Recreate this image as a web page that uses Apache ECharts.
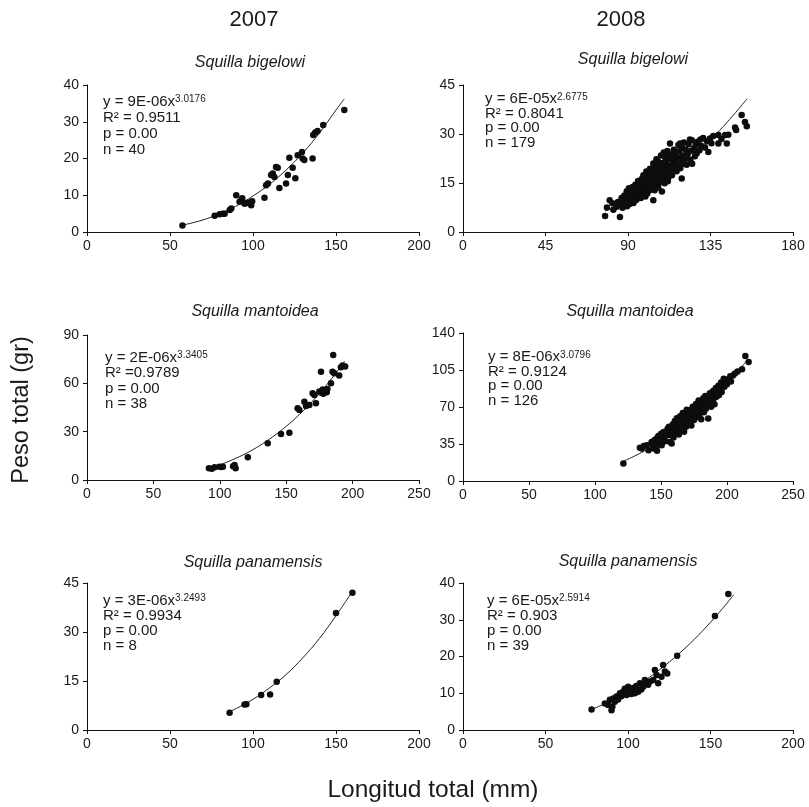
<!DOCTYPE html>
<html>
<head>
<meta charset="utf-8">
<script src="https://cdn.jsdelivr.net/npm/echarts@6/dist/echarts.min.js"></script>
<style>
  html, body { margin: 0; padding: 0; background: #fff; }
  #chart { width: 809px; height: 807px; }
</style>
</head>
<body>
<div id="chart"></div>
<script>
// ---- data ----
const years = ['2007', '2008'];
const species = ['Squilla bigelowi', 'Squilla bigelowi', 'Squilla mantoidea', 'Squilla mantoidea', 'Squilla panamensis', 'Squilla panamensis'];

// axis ranges per panel: [xMax, xStep, yMax, yStep]
const xMax = [200, 180, 250, 250, 200, 200];
const xStep = [50, 45, 50, 50, 50, 50];
const yMax = [40, 45, 90, 140, 45, 40];
const yStep = [10, 15, 30, 35, 15, 10];

// fit statistics shown in each panel
const coef = ['9E-06', '6E-05', '2E-06', '8E-06', '3E-06', '6E-05'];
const expo = ['3.0176', '2.6775', '3.3405', '3.0796', '3.2493', '2.5914'];
const r2 = ['R² = 0.9511', 'R² = 0.8041', 'R² =0.9789', 'R² = 0.9124', 'R² = 0.9934', 'R² = 0.903'];
const nObs = [40, 179, 38, 126, 8, 39];

// scatter points [longitud, peso]
const bigelowi07 = [[57.5,1.8],[76.9,4.4],[79.9,4.8],[81.9,5.0],[82.9,5.0],[86,6.0],[86.9,6.4],[89.9,10.0],[91.9,8.2],[92.9,8.6],
  [94.9,7.7],[97.9,8.0],[99.5,8.4],[98.9,7.3],[96,7.9],[93.5,9.2],[106.9,9.3],[107.9,12.7],[109,13.2],[110.9,15.5],
  [111.9,15.9],[112.9,15.0],[113.9,17.7],[114.9,17.5],[115.9,12.0],[119.9,13.2],[121,15.5],[121.9,20.2],[123.9,17.5],[125.5,14.6],
  [126.9,20.9],[129.5,21.8],[129.9,20.0],[130.9,19.6],[135.9,20.0],[136.3,26.4],[137.5,27.1],[138.9,27.5],[142.3,29.1],[155,33.2]];

const bigelowi08 = [[77.5,4.9],[78.5,7.5],[80,9.7],[81.5,8.8],[82,6.8],[83.8,7.7],[85.6,4.6],[84.5,9.2],
  [86,8.5],[86.5,10.4],[87,7.4],[87.5,9.8],[88,11.2],[88.5,8.2],[89,10.6],[89.3,12.5],[89.5,7.9],[90,9.4],[90,11.8],[90.5,13.4],
  [91,10.2],[91,8.6],[91.5,12.3],[92,9.9],[92,11.4],[92.5,13.8],[93,10.8],[93,8.9],[93.5,12.6],[94,11.3],[94,14.5],[94.5,9.8],
  [95,12.1],[95,10.5],[95.5,13.3],[95.5,15.6],[95,11.7],[94,12.9],[92.7,10.3],[91.7,11.6],
  [96,11.2],[96,14.2],[96.5,12.6],[97,10.4],[97,13.8],[97.5,16.2],[97.5,12.0],[98,14.8],[98.4,17.4],[98,11.5],[98.5,13.2],
  [99,15.4],[99,12.3],[99.5,10.9],[99.5,14.1],[100,16.6],[100,13.0],[100,18.5],[100.5,11.8],[97,15.2],[98.7,16.1],[96.3,13.1],
  [101,14.5],[101,17.2],[101.5,12.7],[102,15.8],[102,19.4],[102.5,14.0],[103,16.9],[103,13.2],[103.5,18.3],[103.8,21.0],[103.8,9.7],
  [104,15.1],[104,17.6],[104.5,20.2],[104.5,12.8],[105,16.3],[105,14.6],[105,19.0],[105.5,22.3],[102.7,16.4],[101.7,18.4],[104.2,13.9],
  [106,15.7],[106,18.9],[106.5,21.5],[106.5,13.6],[107,17.4],[107,20.1],[107.5,15.2],[108,19.3],[108,23.4],[108.5,16.6],
  [108.5,12.4],[109,18.2],[109,21.1],[109.5,24.3],[110,17.0],[110,19.8],[110,14.9],[110.5,22.6],[107.3,18.5],[109.3,16.0],
  [111,18.6],[111,21.7],[111.5,24.8],[112,16.6],[112,20.3],[112.9,27.1],[113,22.5],[113,18.1],[113.5,19.9],[114,23.6],
  [114,17.4],[114.5,21.4],[115,25.2],[115,19.3],[115.5,22.5],[112.5,23.8],[111.7,15.5],[114.3,20.2],
  [116,21.2],[116,24.1],[116.5,18.6],[117,22.9],[117.5,26.6],[117.5,20.4],[118,24.7],[118.4,27.1],[118.5,19.5],[119,22.1],
  [119.3,16.4],[119.5,25.8],[120,23.4],[120,20.8],[120.5,27.4],
  [121,22.4],[121.5,25.2],[122,20.6],[122.5,23.8],[123,26.9],[123.8,28.3],[124,22.1],[124.5,24.9],[124.8,28.1],[125,20.9],
  [126,25.6],[126.5,23.2],[127,26.8],[127.5,24.1],[128,27.6],
  [129,25.0],[129.5,28.3],[130,26.3],[131,28.8],[132,25.9],[133,27.8],[133.8,24.5],[134.7,28.6],[135.5,27.2],[136.5,29.4],
  [139.3,29.7],[139.3,27.1],[141,28.5],[143,29.7],[143.9,27.1],[144.7,29.8],[148.4,32.0],[152,35.8],[153.8,33.7],[154.8,32.4],[149,31.2]];

const mantoidea07 = [[91.8,7.3],[94,7.0],[96.1,7.9],[99.8,8.3],[101,8.0],[102.3,8.3],[111.1,9.3],[111.9,7.3],[110,8.6],[121.1,14.1],
  [136.1,22.8],[146.1,28.6],[152.4,29.4],[158.6,44.5],[159.9,43.5],[163.7,48.6],[164.9,45.9],[167.4,46.6],[169.9,53.8],[171.2,52.8],
  [172.4,47.6],[175,55],[176.2,67.2],[176.5,54.2],[177.5,56.1],[178.5,54.8],[179.5,55.7],[180.5,54.5],[178,53.5],[181,56.5],
  [183.7,60],[184.9,67.2],[186.2,66.2],[185.4,77.6],[189.9,64.9],[191.2,70.0],[192.5,71.1],[194.4,70.4]];

const mantoidea08 = [[121.5,16.6],[134,31.5],[135.4,30.7],[137,33],[139.1,33.8],[140.5,29.2],[142.9,37],[144.2,30.7],[146.7,33.8],[146.7,40.2],
  [143,35.2],[145,38.5],[147,28.5],[147.5,36.4],[148,42.5],[149.2,38.6],[150,44.8],[150.5,33.9],[151,40.1],[152,46.3],
  [153,37.6],[154,42.8],[155,49.5],[156.8,37],[158.1,35.4],[155.5,45.1],
  [156,51.2],[157,43.5],[158,47.8],[159,53.6],[159.5,41.2],[160,49.5],[160.5,56.8],[161,45.3],[161.5,52.1],[162,59.4],
  [162.5,47.2],[163,54.8],[163.5,43.9],[164,50.6],[164.5,61.2],[165,56.3],[165.5,48.1],[166,53.5],[166.5,64.3],[167,58.7],
  [167.5,46.5],[168,55.2],[168.5,61.9],[169,51.4],[169.5,67.5],[170,58.1],[170.5,53.2],[163.8,57.6],[161.2,49.8],[166.3,60.1],
  [171,62.8],[171.5,56.4],[172,66.9],[172.5,59.7],[173,52.4],[173.5,64.1],[174,70.2],[174.5,61.3],[175,57.8],[175.5,67.4],
  [176,63.5],[176.5,72.8],[177,60.2],[177.5,69.1],[178,65.7],[178.5,76.1],[179,62.4],[179.5,71.5],[180,67.9],[180.5,58.5],
  [181,74.3],[181.5,69.6],[182,78.2],[182.5,65.1],[183,72.6],[183.5,80.4],[184,68.3],[184.5,75.7],[185.8,59.1],[185,71.2],
  [176.8,66.2],[179.2,73.7],
  [186,78.9],[186.5,73.4],[187,83.1],[187.5,76.5],[188,70.2],[188.5,80.7],[189,75.1],[189.5,85.2],[190,78.3],[190.5,72.6],
  [191,82.4],[191.5,87.9],[192,79.6],[193,84.7],[193.5,90.2],[194,81.3],[195,88.6],[196,84.1],[197,92.5],[198,89.2],
  [199,95.3],[200,91.6],[197.5,96.8],[195.5,93.1],
  [201,96.2],[202.5,99.2],[204.5,99.9],[203,94.1],[206,101.8],[208,103.5],[211.4,105.6],[213.9,118.3],[216.4,112.6]];

const panamensis07 = [[85.9,5.3],[94.9,7.8],[96,7.9],[104.9,10.7],[110.3,10.9],[114.3,14.8],[150,35.8],[159.9,42]];

const panamensis08 = [[77.9,5.6],[90,5.4],[90.5,6.3],[88,6.8],[86,7.2],[89,8.2],[91,8.6],[92,7.7],[93,9.1],[94,8.3],
  [95.1,10.0],[96,9.2],[97.1,10.4],[98,11.2],[99.1,9.5],[100.1,11.8],[101.1,10.9],[102,9.8],[103.1,11.4],[104.2,10.0],
  [105,12.0],[106.2,10.4],[107.2,12.7],[108,11.0],[109.2,11.8],[110.2,13.6],[111,12.9],[112.2,12.3],[113.3,13.2],[115.3,13.6],
  [116.3,16.3],[117.3,15.0],[118.3,12.7],[120.3,14.5],[121.3,17.7],[122.4,15.9],[123.8,15.4],[129.8,20.2],[152.7,31.0],[160.8,37.0]];

// fitted power curves
const fitBig07 = [[57,1.8],[70,3.3],[80,5.0],[90,7.1],[100,9.8],[110,13.0],[120,16.9],[130,21.5],[140,26.9],[150,33.2],[155,36.2]];
const fitBig08 = [[77.5,6.4],[90,9.5],[100,12.6],[110,16.3],[120,20.6],[130,25.5],[140,31.1],[147.5,35.8],[155,40.8]];
const fitMan07 = [[92,7.3],[100,9.4],[110,12.7],[120,16.6],[130,21.3],[140,26.9],[150,33.3],[160,40.7],[170,49.1],[180,58.6],[190,69.2],[194,73.8]];
const fitMan08 = [[122,19],[130,23.6],[140,30.3],[150,38.3],[160,46.5],[170,55.9],[180,66.6],[190,78.5],[200,91.7],[210,106.2],[215,114]];
const fitPan07 = [[85,5.5],[90,6.6],[100,9.4],[110,12.9],[120,17.0],[130,22.1],[140,28.0],[150,35.0],[160,42.5]];
const fitPan08 = [[78,5.6],[90,8.0],[100,10.5],[110,13.4],[120,16.7],[130,20.4],[140,24.6],[150,29.3],[160,34.5],[164,36.8]];

const points = [bigelowi07, bigelowi08, mantoidea07, mantoidea08, panamensis07, panamensis08];
const fits = [fitBig07, fitBig08, fitMan07, fitMan08, fitPan07, fitPan08];

// ---- layout ----
const FONT = 'Liberation Sans, Arial, Helvetica, sans-serif';
const grids = [
  { left: 87, top: 85, width: 332, height: 147 },
  { left: 463, top: 85, width: 330, height: 147 },
  { left: 87, top: 335, width: 332, height: 145 },
  { left: 463, top: 333, width: 330, height: 148 },
  { left: 87, top: 583, width: 332, height: 147 },
  { left: 463, top: 583, width: 330, height: 147 }
];
const titlePos = [[250, 63], [633, 60], [255, 312], [630, 312], [253, 563], [628, 562]];
const notePos = [[103, 94], [485, 92], [105, 350], [488, 350], [103, 593], [487, 593]];
const noteLine = [16, 14.5, 15.5, 14.5, 15, 15];

const chart = echarts.init(document.getElementById('chart'));

const axisCommon = {
  axisLine: { lineStyle: { color: '#111', width: 1 } },
  axisTick: { show: true, inside: false, length: 4, lineStyle: { color: '#111' } },
  splitLine: { show: false },
  axisLabel: { color: '#1a1a1a', fontSize: 14, fontFamily: FONT }
};

const xAxis = [], yAxis = [], series = [], graphic = [];
grids.forEach((g, i) => {
  xAxis.push(Object.assign({}, axisCommon, {
    type: 'value', gridIndex: i, min: 0, max: xMax[i], interval: xStep[i],
    axisLabel: Object.assign({}, axisCommon.axisLabel, { margin: 7, showMaxLabel: true })
  }));
  yAxis.push(Object.assign({}, axisCommon, {
    type: 'value', gridIndex: i, min: 0, max: yMax[i], interval: yStep[i],
    axisLabel: Object.assign({}, axisCommon.axisLabel, { margin: 8 })
  }));
  series.push({
    type: 'scatter', xAxisIndex: i, yAxisIndex: i, data: points[i],
    symbol: 'circle', symbolSize: 6.5, itemStyle: { color: '#0d0d0d', opacity: 1 }, silent: true, z: 3
  });
  series.push({
    type: 'line', xAxisIndex: i, yAxisIndex: i, data: fits[i],
    smooth: 0.4, showSymbol: false, lineStyle: { color: '#222', width: 1 }, silent: true, z: 2
  });

  graphic.push({
    type: 'text', x: titlePos[i][0], y: titlePos[i][1],
    style: { text: species[i], font: 'italic 16px ' + FONT, fill: '#1a1a1a', align: 'center', verticalAlign: 'middle' }
  });
  const lh = noteLine[i];
  graphic.push({
    type: 'text', x: notePos[i][0], y: notePos[i][1],
    style: {
      text: '{n|y = ' + coef[i] + 'x}{s|' + expo[i] + '}\n{n|' + r2[i] + '}\n{n|p = 0.00}\n{n|n = ' + nObs[i] + '}',
      fill: '#1a1a1a', align: 'left', verticalAlign: 'top',
      rich: {
        n: { fontSize: 15, fontFamily: FONT, lineHeight: lh, fill: '#1a1a1a' },
        s: { fontSize: 10, fontFamily: FONT, lineHeight: lh, verticalAlign: 'top', fill: '#1a1a1a', padding: [0, 0, 4, 0] }
      }
    }
  });
});

graphic.push({ type: 'text', x: 254, y: 20, style: { text: years[0], font: '22px ' + FONT, fill: '#1a1a1a', align: 'center', verticalAlign: 'middle' } });
graphic.push({ type: 'text', x: 621, y: 20, style: { text: years[1], font: '22px ' + FONT, fill: '#1a1a1a', align: 'center', verticalAlign: 'middle' } });
graphic.push({
  type: 'text', x: 22, y: 410, rotation: Math.PI / 2,
  style: { text: 'Peso total (gr)', font: '23.5px ' + FONT, fill: '#1a1a1a', align: 'center', verticalAlign: 'middle' }
});
graphic.push({ type: 'text', x: 433, y: 790, style: { text: 'Longitud total (mm)', font: '24.5px ' + FONT, fill: '#1a1a1a', align: 'center', verticalAlign: 'middle' } });

chart.setOption({
  backgroundColor: '#fff',
  animation: false,
  grid: grids,
  xAxis: xAxis,
  yAxis: yAxis,
  series: series,
  graphic: graphic
});
</script>
</body>
</html>
